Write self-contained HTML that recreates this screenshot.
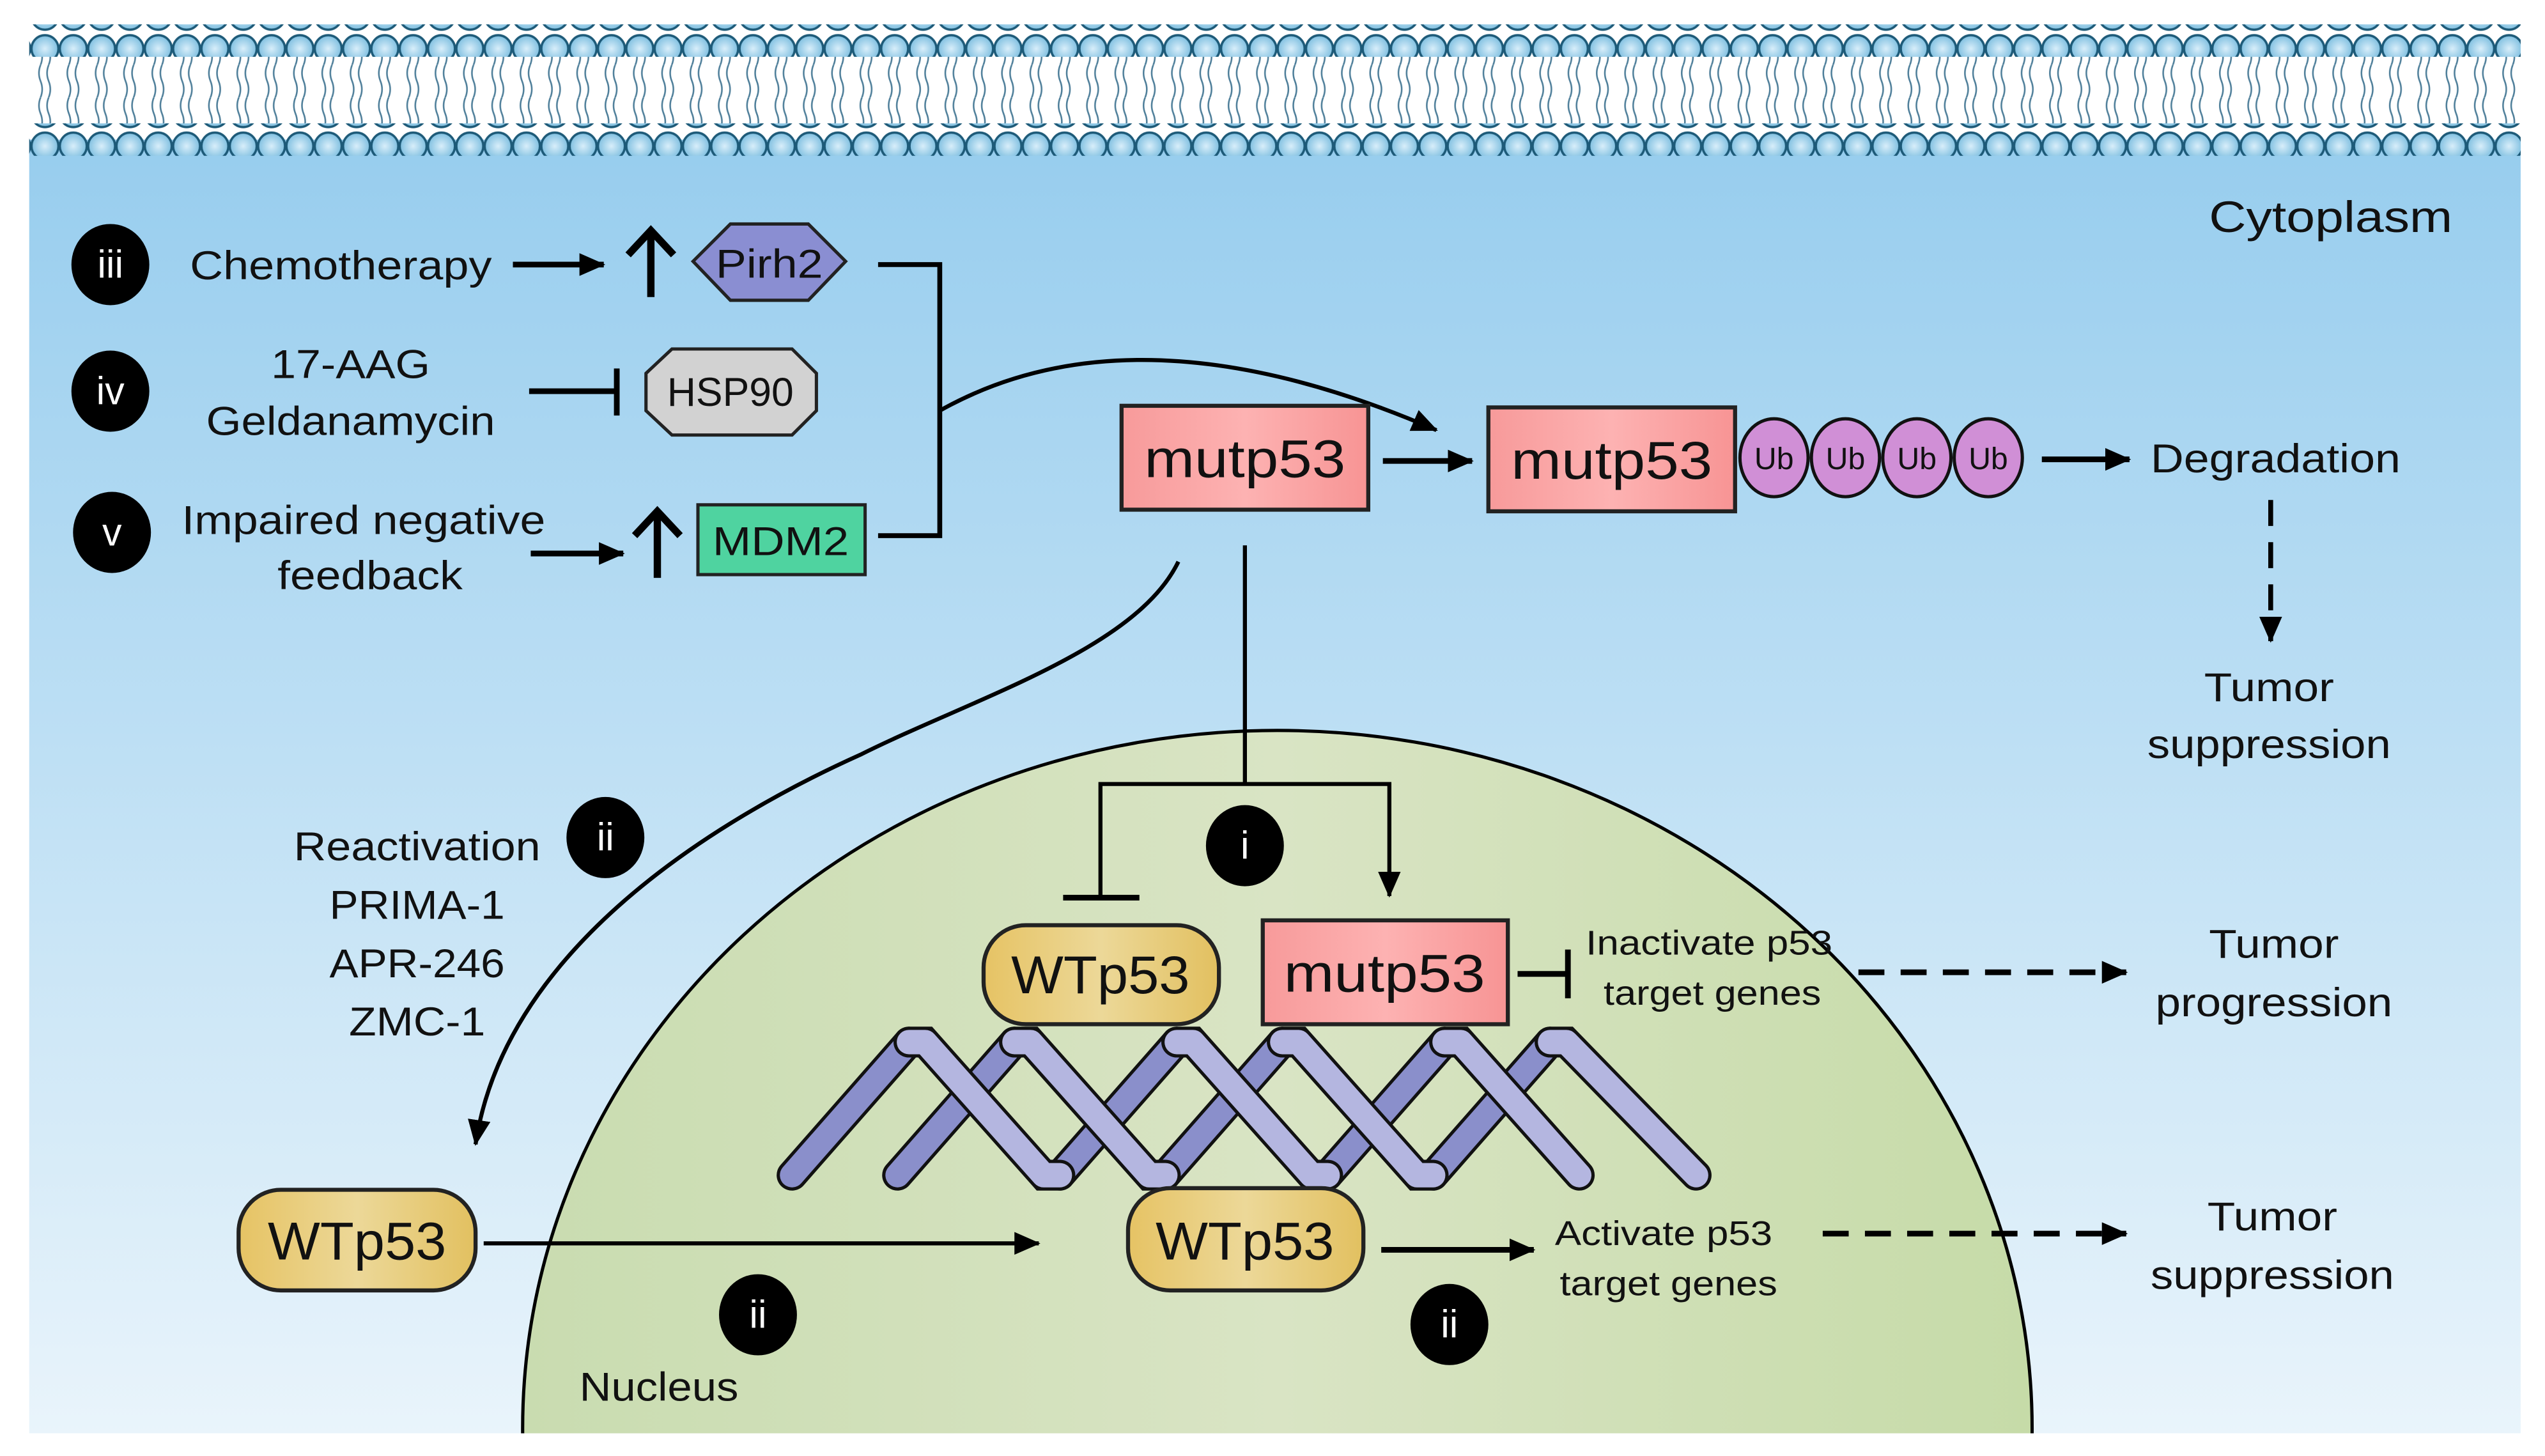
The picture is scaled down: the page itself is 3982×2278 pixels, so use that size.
<!DOCTYPE html>
<html><head><meta charset="utf-8"><style>html,body{margin:0;padding:0;background:#fff;overflow:hidden;width:3982px;height:2278px}svg{display:block}text{font-family:"Liberation Sans",sans-serif;fill:#111}text.w{fill:#fff}</style></head><body>
<svg width="3982" height="2278" viewBox="0 0 1568 897" preserveAspectRatio="none" xmlns="http://www.w3.org/2000/svg">
<defs>
<linearGradient id="bg" x1="0" y1="0" x2="0" y2="1"><stop offset="0" stop-color="#97cdee"/><stop offset="1" stop-color="#e9f4fb"/></linearGradient>
<linearGradient id="nuc" x1="0" y1="0" x2="1" y2="0"><stop offset="0" stop-color="#c9dcb0"/><stop offset="0.5" stop-color="#d9e4c4"/><stop offset="1" stop-color="#c6dba8"/></linearGradient>
<linearGradient id="pink" x1="0" y1="0" x2="1" y2="0"><stop offset="0" stop-color="#f79a9a"/><stop offset="0.5" stop-color="#fdb2b2"/><stop offset="1" stop-color="#f79494"/></linearGradient>
<linearGradient id="yel" x1="0" y1="0" x2="1" y2="0"><stop offset="0" stop-color="#e6c364"/><stop offset="0.5" stop-color="#ecd898"/><stop offset="1" stop-color="#e2c060"/></linearGradient>
<radialGradient id="head" cx="0.5" cy="0.5" r="0.5"><stop offset="0" stop-color="#d8eefa"/><stop offset="1" stop-color="#7fbfe0"/></radialGradient>
<pattern id="heads" x="19" y="0" width="17.45" height="20" patternUnits="userSpaceOnUse"><circle cx="8.7" cy="10" r="8.3" fill="url(#head)" stroke="#1d5a78" stroke-width="1.4"/></pattern>
<pattern id="tails" x="19" y="0" width="17.45" height="20" patternUnits="userSpaceOnUse"><path d="M6 0 q-2 5 0 10 q2 5 0 10 M11 0 q-2 5 0 10 q2 5 0 10" fill="none" stroke="#4f7f9a" stroke-width="1"/></pattern>
<marker id="arB" markerWidth="16" markerHeight="14" refX="15" refY="7" orient="auto" markerUnits="userSpaceOnUse"><path d="M0 0 L16 7 L0 14 z" fill="#000"/></marker>
</defs>
<rect x="18" y="86" width="1535" height="797" fill="url(#bg)"/>
<rect x="18" y="34" width="1535" height="42" fill="url(#tails)"/>
<rect x="18" y="15" width="1535" height="20" fill="url(#heads)"/>
<rect x="18" y="76" width="1535" height="20" fill="url(#heads)"/>
<clipPath id="cl"><rect x="0" y="0" width="1568" height="883"/></clipPath>
<ellipse cx="787" cy="880" rx="465" ry="430" fill="url(#nuc)" stroke="#000" stroke-width="2" clip-path="url(#cl)"/>
<text x="1436" y="143" font-size="27" text-anchor="middle" textLength="150" lengthAdjust="spacingAndGlyphs">Cytoplasm</text>
<g fill="#000"><ellipse cx="68" cy="163" rx="24" ry="25"/><ellipse cx="68" cy="241" rx="24" ry="25"/><ellipse cx="69" cy="328" rx="24" ry="25"/><ellipse cx="373" cy="516" rx="24" ry="25"/><ellipse cx="767" cy="521" rx="24" ry="25"/><ellipse cx="467" cy="810" rx="24" ry="25"/><ellipse cx="893" cy="816" rx="24" ry="25"/></g>
<g font-size="24" text-anchor="middle"><text class="w" x="68" y="171">iii</text><text class="w" x="68" y="249">iv</text><text class="w" x="69" y="336">v</text><text class="w" x="373" y="524">ii</text><text class="w" x="767" y="529">i</text><text class="w" x="467" y="818">ii</text><text class="w" x="893" y="824">ii</text></g>
<g font-size="25" text-anchor="middle">
<text x="210" y="172" textLength="186" lengthAdjust="spacingAndGlyphs">Chemotherapy</text>
<text x="216" y="233" textLength="98" lengthAdjust="spacingAndGlyphs">17-AAG</text>
<text x="216" y="268" textLength="178" lengthAdjust="spacingAndGlyphs">Geldanamycin</text>
<text x="224" y="329" textLength="224" lengthAdjust="spacingAndGlyphs">Impaired negative</text>
<text x="228" y="363" textLength="114" lengthAdjust="spacingAndGlyphs">feedback</text>
<text x="1402" y="291" textLength="154" lengthAdjust="spacingAndGlyphs">Degradation</text>
<text x="1398" y="432" textLength="80" lengthAdjust="spacingAndGlyphs">Tumor</text>
<text x="1398" y="467" textLength="150" lengthAdjust="spacingAndGlyphs">suppression</text>
<text x="257" y="530" textLength="152" lengthAdjust="spacingAndGlyphs">Reactivation</text>
<text x="257" y="566" textLength="108" lengthAdjust="spacingAndGlyphs">PRIMA-1</text>
<text x="257" y="602" textLength="108" lengthAdjust="spacingAndGlyphs">APR-246</text>
<text x="257" y="638" textLength="84" lengthAdjust="spacingAndGlyphs">ZMC-1</text>
<text x="1401" y="590" textLength="80" lengthAdjust="spacingAndGlyphs">Tumor</text>
<text x="1401" y="626" textLength="146" lengthAdjust="spacingAndGlyphs">progression</text>
<text x="1400" y="758" textLength="80" lengthAdjust="spacingAndGlyphs">Tumor</text>
<text x="1400" y="794" textLength="150" lengthAdjust="spacingAndGlyphs">suppression</text>
<text x="406" y="863" textLength="98" lengthAdjust="spacingAndGlyphs">Nucleus</text>
</g>
<g font-size="21" text-anchor="middle">
<text x="1053" y="588" textLength="152" lengthAdjust="spacingAndGlyphs">Inactivate p53</text>
<text x="1055" y="619" textLength="134" lengthAdjust="spacingAndGlyphs">target genes</text>
<text x="1025" y="767" textLength="134" lengthAdjust="spacingAndGlyphs">Activate p53</text>
<text x="1028" y="798" textLength="134" lengthAdjust="spacingAndGlyphs">target genes</text>
</g>
<g stroke="#000" fill="none" stroke-width="3.5">
<line x1="316" y1="163" x2="372" y2="163" marker-end="url(#arB)"/>
<line x1="327" y1="341" x2="384" y2="341" marker-end="url(#arB)"/>
<line x1="852" y1="284" x2="907" y2="284" marker-end="url(#arB)"/>
<line x1="1258" y1="283" x2="1312" y2="283" marker-end="url(#arB)"/>
<line x1="851" y1="770" x2="945" y2="770" marker-end="url(#arB)"/>
</g>
<g stroke="#000" fill="none" stroke-width="4.5">
<line x1="401" y1="183" x2="401" y2="143"/><polyline points="387,157 401,142 415,157"/>
<line x1="405" y1="356" x2="405" y2="316"/><polyline points="391,330 405,315 419,330"/>
<line x1="326" y1="241" x2="380" y2="241" stroke-width="3.5"/><line x1="380" y1="227" x2="380" y2="256" stroke-width="3.5"/>
<line x1="935" y1="600" x2="966" y2="600" stroke-width="3.5"/><line x1="966" y1="585" x2="966" y2="615" stroke-width="3.5"/>
</g>
<g stroke="#000" fill="none" stroke-width="3">
<polyline points="541,163 579,163 579,330 541,330"/>
<path d="M579 253 Q700 185 885 265" stroke-width="2.5" marker-end="url(#arB)"/>
<path d="M726 346 C700 400 600 430 530 465 C430 510 310 590 293 705" stroke-width="2.5" marker-end="url(#arB)"/>
<line x1="767" y1="336" x2="767" y2="483" stroke-width="2.5"/>
<polyline points="678,553 678,483 856,483 856,552" stroke-width="2.5" marker-end="url(#arB)"/>
<line x1="655" y1="553" x2="702" y2="553" stroke-width="3.5"/>
<line x1="298" y1="766" x2="640" y2="766" stroke-width="2.5" marker-end="url(#arB)"/>
<line x1="1399" y1="308" x2="1399" y2="395" stroke-dasharray="16,10" marker-end="url(#arB)"/>
<line x1="1145" y1="599" x2="1310" y2="599" stroke-dasharray="16,10" stroke-width="3.5" marker-end="url(#arB)"/>
<line x1="1123" y1="760" x2="1310" y2="760" stroke-dasharray="16,10" stroke-width="3.5" marker-end="url(#arB)"/>
</g>
<polygon points="427,161 450,138 498,138 521,161 498,185 450,185" fill="#8a8ed2" stroke="#222" stroke-width="2"/>
<text x="474" y="171" font-size="25" text-anchor="middle" textLength="66" lengthAdjust="spacingAndGlyphs">Pirh2</text>
<polygon points="398,230 414,215 488,215 503,230 503,253 488,268 414,268 398,253" fill="#d2d2d2" stroke="#222" stroke-width="2"/>
<text x="450" y="250" font-size="25" text-anchor="middle" textLength="78" lengthAdjust="spacingAndGlyphs">HSP90</text>
<rect x="430" y="311" width="103" height="43" fill="#4fd3a0" stroke="#222" stroke-width="2"/>
<text x="481" y="342" font-size="25" text-anchor="middle" textLength="84" lengthAdjust="spacingAndGlyphs">MDM2</text>
<g stroke="#222" stroke-width="2.5" fill="url(#pink)">
<rect x="691" y="250" width="152" height="64"/><rect x="917" y="251" width="152" height="64"/><rect x="778" y="567" width="151" height="64"/>
</g>
<g font-size="33" text-anchor="middle">
<text x="767" y="294" textLength="124" lengthAdjust="spacingAndGlyphs">mutp53</text>
<text x="993" y="295" textLength="124" lengthAdjust="spacingAndGlyphs">mutp53</text>
<text x="853" y="611" textLength="124" lengthAdjust="spacingAndGlyphs">mutp53</text>
</g>
<g fill="#d08fd6" stroke="#111" stroke-width="2">
<ellipse cx="1093" cy="282" rx="21" ry="24"/><ellipse cx="1137" cy="282" rx="21" ry="24"/><ellipse cx="1181" cy="282" rx="21" ry="24"/><ellipse cx="1225" cy="282" rx="21" ry="24"/>
</g>
<g font-size="19" text-anchor="middle"><text x="1093" y="289">Ub</text><text x="1137" y="289">Ub</text><text x="1181" y="289">Ub</text><text x="1225" y="289">Ub</text></g>
<g fill="none" stroke-linecap="round">
<g stroke="#111" stroke-width="19">
<path d="M488 724 L560 642 M653 724 L725 642 M818 724 L890 642 M553 724 L625 642 M718 724 L790 642 M883 724 L955 642"/>
</g>
<g stroke="#8a8fcb" stroke-width="15">
<path d="M488 724 L560 642 M653 724 L725 642 M818 724 L890 642 M553 724 L625 642 M718 724 L790 642 M883 724 L955 642"/>
</g>
<g stroke="#111" stroke-width="19">
<path d="M560 642 L570 642 L643 724 L653 724 M725 642 L735 642 L808 724 L818 724 M890 642 L900 642 L973 724 M625 642 L635 642 L708 724 L718 724 M790 642 L800 642 L873 724 L883 724 M955 642 L965 642 L1045 724"/>
</g>
<g stroke="#b4b6e0" stroke-width="15" stroke-linejoin="round">
<path d="M560 642 L570 642 L643 724 L653 724 M725 642 L735 642 L808 724 L818 724 M890 642 L900 642 L973 724 M625 642 L635 642 L708 724 L718 724 M790 642 L800 642 L873 724 L883 724 M955 642 L965 642 L1045 724"/>
</g>
</g>
<g stroke="#222" stroke-width="2.5" fill="url(#yel)">
<rect x="606" y="570" width="145" height="61" rx="26"/>
<rect x="147" y="733" width="146" height="62" rx="26"/>
<rect x="695" y="732" width="145" height="63" rx="26"/>
</g>
<g font-size="33" text-anchor="middle">
<text x="678" y="612" textLength="110" lengthAdjust="spacingAndGlyphs">WTp53</text>
<text x="220" y="776" textLength="110" lengthAdjust="spacingAndGlyphs">WTp53</text>
<text x="767" y="776" textLength="110" lengthAdjust="spacingAndGlyphs">WTp53</text>
</g>
</svg>
</body></html>
